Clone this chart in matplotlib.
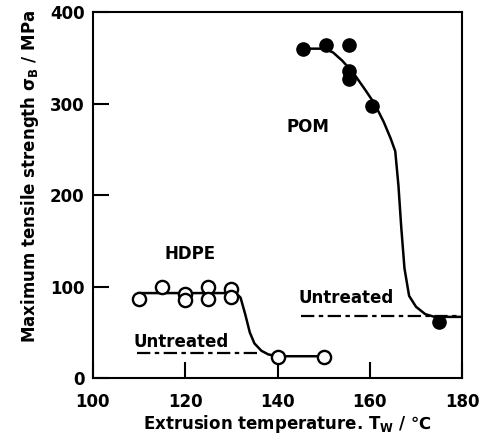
import matplotlib.pyplot as plt

plt.rcParams['font.family'] = ['DejaVu Sans']
plt.rcParams['font.weight'] = 'bold'
plt.rcParams['axes.labelweight'] = 'bold'
plt.rcParams['mathtext.fontset'] = 'custom'
plt.rcParams['mathtext.rm'] = 'DejaVu Sans:bold'
plt.rcParams['mathtext.it'] = 'DejaVu Sans:bold'
plt.rcParams['mathtext.bf'] = 'DejaVu Sans:bold'

# HDPE measured points (open circles)
hdpe_x = [110, 115, 120, 120, 125, 125, 130, 130, 140, 150]
hdpe_y = [87, 100, 92, 85, 100, 87, 97, 89, 23, 23]
# HDPE fitted curve
hdpe_cx = [110, 131, 132, 133, 134, 135, 136.5, 138, 140, 150]
hdpe_cy = [93, 93, 88, 70, 50, 38, 30, 26, 24, 24]

# POM measured points (filled circles)
pom_x = [145.5, 150.5, 155.5, 155.5, 155.5, 160.5, 175]
pom_y = [360, 364, 364, 336, 327, 297, 61]
# POM fitted curve
pom_cx = [145, 150, 152, 154, 156.5, 159, 161, 163, 164.5, 165.5, 166.2,
          166.8, 167.5, 168.5, 170, 172, 174, 180]
pom_cy = [360, 360, 356, 347, 333, 315, 300, 280, 262, 248, 210,
          165, 120, 90, 78, 70, 67, 67]

# untreated reference levels
hdpe_untreated_x = [109.5, 136]
hdpe_untreated_y = [27, 27]
pom_untreated_x = [145, 180]
pom_untreated_y = [68, 68]

fig = plt.figure(figsize=(4.86, 4.46), dpi=100)
ax = fig.add_axes([0.191, 0.152, 0.760, 0.821])

ax.plot(hdpe_cx, hdpe_cy, color='black', lw=1.8, zorder=2)
ax.plot(pom_cx, pom_cy, color='black', lw=1.8, zorder=2)
ax.plot(hdpe_untreated_x, hdpe_untreated_y, color='black', lw=1.6,
        dashes=(6, 2, 2, 2), zorder=1)
ax.plot(pom_untreated_x, pom_untreated_y, color='black', lw=1.6,
        dashes=(6, 2, 2, 2), zorder=1)

ax.plot(hdpe_x, hdpe_y, 'o', ms=9.5, mfc='white', mec='black', mew=1.7,
        linestyle='none', zorder=3)
ax.plot(pom_x, pom_y, 'o', ms=9.5, mfc='black', mec='black',
        linestyle='none', zorder=3)

ax.text(121, 136, 'HDPE', ha='center', va='center', fontsize=12)
ax.text(146.5, 274, 'POM', ha='center', va='center', fontsize=12)
ax.text(119.2, 40, 'Untreated', ha='center', va='center', fontsize=12)
ax.text(154.8, 88, 'Untreated', ha='center', va='center', fontsize=12)

ax.set_xlim(100, 180)
ax.set_ylim(0, 400)
ax.set_xticks([100, 120, 140, 160, 180])
ax.set_yticks([0, 100, 200, 300, 400])
ax.tick_params(axis='both', direction='in', length=11.5, width=1.5,
               labelsize=12, top=False, right=False)
ax.tick_params(axis='x', pad=11)
ax.tick_params(axis='y', pad=6)
for s in ax.spines.values():
    s.set_linewidth(1.5)

ax.set_xlabel(r'Extrusion temperature. T$_{\rm W}$ / ℃', fontsize=12)
ax.set_ylabel(r'Maximum tensile strength $\sigma_{\rm B}$ / MPa', fontsize=12)
ax.xaxis.set_label_coords(0.528, -0.095)
ax.yaxis.set_label_coords(-0.141, 0.552)

fig.savefig('out.png', dpi=100)
